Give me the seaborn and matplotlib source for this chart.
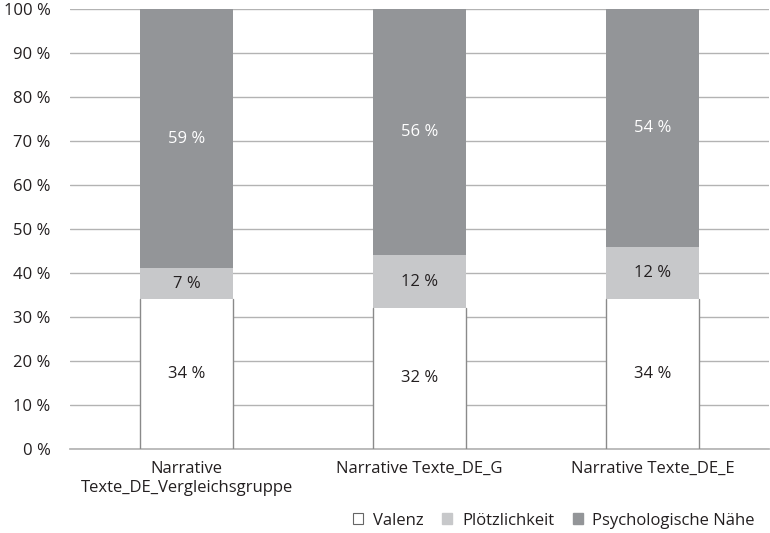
import pandas as pd
import matplotlib.pyplot as plt
import seaborn as sns
from matplotlib.patches import Patch
from matplotlib.ticker import FuncFormatter

# Daten
gruppen = ['Narrative\nTexte_DE_Vergleichsgruppe', 'Narrative Texte_DE_G', 'Narrative Texte_DE_E']
valenz = [34, 32, 34]
ploetzlichkeit = [7, 12, 12]
naehe = [59, 56, 54]

df = pd.DataFrame({'Gruppe': gruppen, 'Valenz': valenz,
                   'Plötzlichkeit': ploetzlichkeit, 'Psychologische Nähe': naehe})
df['cum1'] = df['Valenz']
df['cum2'] = df['Valenz'] + df['Plötzlichkeit']
df['cum3'] = df['cum2'] + df['Psychologische Nähe']

sns.set_theme(style="white")
plt.rcParams['font.family'] = ['Open Sans', 'DejaVu Sans']

c_val = 'white'
c_plo = '#c7c8ca'
c_nae = '#939598'
grid_c = '#b3b3b3'
txt_c = '#231f20'
fs = 12

fig, ax = plt.subplots(figsize=(7.7, 5.33), dpi=100)
fig.subplots_adjust(left=0.091, right=0.999, top=0.983, bottom=0.158)

ax.set_axisbelow(True)
ax.yaxis.grid(True, color=grid_c, linewidth=1)

sns.barplot(data=df, x='Gruppe', y='cum3', color=c_nae, width=0.4, ax=ax, saturation=1, linewidth=0)
sns.barplot(data=df, x='Gruppe', y='cum2', color=c_plo, width=0.4, ax=ax, saturation=1, linewidth=0)
sns.barplot(data=df, x='Gruppe', y='cum1', color=c_val, width=0.4, ax=ax, saturation=1, linewidth=0)

# graue Seitenkanten nur am weissen Segment
for p in ax.containers[2]:
    x0, x1, h = p.get_x(), p.get_x() + p.get_width(), p.get_height()
    ax.plot([x0, x0], [0, h], color='#8a8a8a', linewidth=1, zorder=3)
    ax.plot([x1, x1], [0, h], color='#8a8a8a', linewidth=1, zorder=3)

# Beschriftungen
for i, row in df.iterrows():
    ax.text(i, row['cum1'] / 2, f"{row['Valenz']} %", ha='center', va='center',
            fontsize=fs, color=txt_c)
    ax.text(i, (row['cum1'] + row['cum2']) / 2, f"{row['Plötzlichkeit']} %", ha='center',
            va='center', fontsize=fs, color=txt_c)
    ax.text(i, (row['cum2'] + row['cum3']) / 2, f"{row['Psychologische Nähe']} %", ha='center',
            va='center', fontsize=fs, color='white')

ax.set_ylim(0, 100)
ax.set_xlim(-0.5, 2.5)
ax.set_yticks(range(0, 101, 10))
ax.yaxis.set_major_formatter(FuncFormatter(lambda v, p: f"{int(v)} %"))
ax.set_xlabel('')
ax.set_ylabel('')
ax.tick_params(axis='both', labelsize=fs, colors=txt_c, length=0)
ax.tick_params(axis='y', pad=14)
ax.tick_params(axis='x', pad=9)
for s in ['top', 'right', 'left']:
    ax.spines[s].set_visible(False)
ax.spines['bottom'].set_color(grid_c)

handles = [Patch(facecolor=c_val, edgecolor='#666666', linewidth=0.8, label='Valenz'),
           Patch(facecolor=c_plo, edgecolor=c_plo, label='Plötzlichkeit'),
           Patch(facecolor=c_nae, edgecolor=c_nae, label='Psychologische Nähe')]
fig.legend(handles=handles, loc='lower right', bbox_to_anchor=(1.0, -0.02), ncol=3,
           frameon=False, fontsize=fs, handlelength=0.6, handleheight=0.6,
           handletextpad=0.6, columnspacing=1.1, labelcolor=txt_c)

plt.savefig('out.png', dpi=100)
